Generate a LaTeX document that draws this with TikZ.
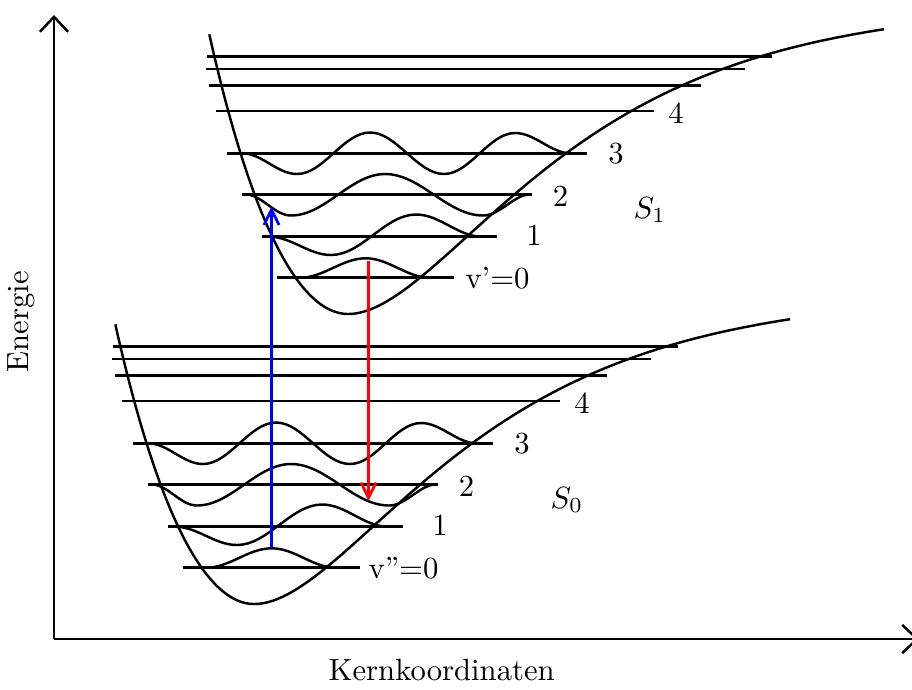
\documentclass[tikz,border=0pt]{standalone}
\usetikzlibrary{arrows.meta}
\tikzset{
  thinline/.style={line width=0.8pt, line join=round},
  axisline/.style={line width=0.8pt, -{Straight Barb[length=4.9pt,width=9.2pt]}},
  transarrow/.style={line width=0.9pt, -{Straight Barb[length=5pt,width=4.9pt]}},
  lab/.style={inner sep=0pt},
}
\newcommand{\molsys}[2]{%
  % potential curve: harmonic-like left branch, Morse right branch
  \draw[thinline] plot[smooth, domain=115.3:254, samples=50, variable=\t]
      (\t, {604 - 130*((\t-254)/100)*((\t-254)/100) - 8*((\t-254)/100)*((\t-254)/100)*((\t-254)/100)*((\t-254)/100)})
    -- plot[smooth, domain=254:790, samples=110, variable=\t]
      (\t, {604 - 312*(1-exp(-0.58*(\t-254)/100))*(1-exp(-0.58*(\t-254)/100))});
  % vibrational levels
  \draw[thinline] (113,346.7) -- (678,346.7);
  \draw[thinline] (112,359) -- (651,359);
  \draw[thinline] (115,375.7) -- (607,375.7);
  \draw[thinline] (122,401) -- (560,401);
  \draw[thinline] (133.3,443.3) -- (492.7,443.3);
  \draw[thinline] (148.3,484.3) -- (438.3,484.3);
  \draw[thinline] (167.7,526.7) -- (403.3,526.7);
  \draw[thinline] (183.3,567.7) -- (360,567.7);
  % wave functions
  \draw[thinline] (206,567.7) cos (238.85,558) sin (271.7,548.3) cos (303.85,558) sin (336,567.7);
  \draw[thinline] (175,526.7) cos (206,535.85) sin (237,545) cos (279.5,524.75) sin (322,504.5)
     cos (355,515.6) sin (388,526.7);
  \draw[thinline] (151,484.3) cos (174,494.9) sin (197,505.5) cos (244,484.75) sin (291,464)
     cos (340,484.75) sin (389,505.5) cos (413,494.9) sin (437,484.3);
  \draw[thinline] (148,443.3) cos (175.5,453.65) sin (203,464) cos (239.5,443.25) sin (276,422.5)
     cos (313,443.25) sin (350,464) cos (385.5,443.5) sin (421,423) cos (449,433.15) sin (477,443.3);
  % labels
  \node[lab] (#1-l4) at (582,403.5) {4};
  \node[lab] (#1-l3) at (522,444) {3};
  \node[lab] (#1-l2) at (466.5,486) {2};
  \node[lab] (#1-l1) at (440,525.5) {1};
  \node[lab] (#1-l0) at (403.5,568.5) {#2};
}
\begin{document}
\begin{tikzpicture}[x=0.326pt,y=-0.326pt]
\useasboundingbox (0,0) rectangle (912,689);
\coordinate (ytip) at (54,15);
\coordinate (orig) at (54,639);
\coordinate (xtip) at (919,639);
\draw[axisline] (orig) -- (ytip);
\draw[axisline] (orig) -- (xtip);
\begin{scope}
  \molsys{lo}{v''=0}
\end{scope}
\begin{scope}[shift={(94,-290)}]
  \molsys{up}{v'=0}
\end{scope}
\node[lab, anchor=base west] (S0) at (550,508.3) {$S_0$};
\node[lab, anchor=base west] (S1) at (633,218.3) {$S_1$};
\node[rotate=90] (ylab) at (21.5,321.7) {Energie};
\node[lab, anchor=base] (xlab) at (441.7,680) {Kernkoordinaten};
\coordinate (blueStart) at (271.5,548.3);
\coordinate (blueEnd) at (271.5,206.5);
\coordinate (redStart) at (368.5,261);
\coordinate (redEnd) at (368.5,501);
\draw[transarrow, blue] (blueStart) -- (blueEnd);
\draw[transarrow, red] (redStart) -- (redEnd);
\end{tikzpicture}
\end{document}
